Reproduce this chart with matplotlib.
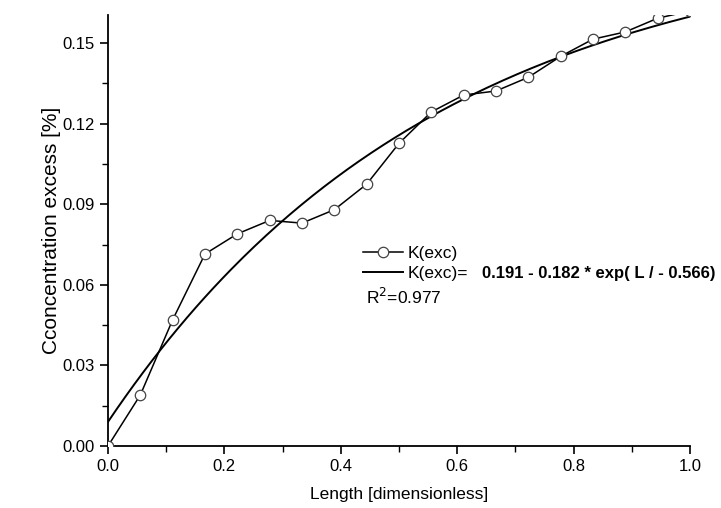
import matplotlib
matplotlib.use("Agg")
import matplotlib.pyplot as plt
import numpy as np
from matplotlib.ticker import MultipleLocator, FormatStrFormatter

plt.rcParams['font.family'] = ['Liberation Sans', 'DejaVu Sans']

# measured points K(exc)
length = [0.0, 1/18, 2/18, 3/18, 4/18, 5/18, 6/18, 7/18, 8/18, 9/18,
          10/18, 11/18, 12/18, 13/18, 14/18, 15/18, 16/18, 17/18, 1.0]
k_exc = [0.000, 0.019, 0.047, 0.0715, 0.079, 0.084, 0.083, 0.088, 0.0975, 0.1127,
         0.1244, 0.1307, 0.1322, 0.1373, 0.1451, 0.1515, 0.1542, 0.1593, 0.162]

# fitted curve parameters (from the legend)
fit_a, fit_b, fit_t = 0.191, 0.182, 0.566
fit_x = np.linspace(0, 1, 200)
fit_y = fit_a - fit_b * np.exp(fit_x / -fit_t)

fig = plt.figure(figsize=(7.21, 5.08), dpi=100)
ax = fig.add_axes([108/721, 62/508, 582/721, 431/508])

ax.plot(length, k_exc, color='black', linewidth=1.1, marker='o', markersize=7.5,
        markerfacecolor='white', markeredgecolor='#444444', markeredgewidth=0.9,
        label='K(exc)', zorder=3)
ax.plot(fit_x, fit_y, color='black', linewidth=1.4, label='K(exc)=', zorder=2)

ax.set_xlim(0, 1.0)
ax.set_ylim(0, 0.1605)
ax.xaxis.set_major_locator(MultipleLocator(0.2))
ax.xaxis.set_minor_locator(MultipleLocator(0.1))
ax.yaxis.set_major_locator(MultipleLocator(0.03))
ax.yaxis.set_minor_locator(MultipleLocator(0.015))
ax.xaxis.set_major_formatter(FormatStrFormatter('%.1f'))
ax.yaxis.set_major_formatter(FormatStrFormatter('%.2f'))
ax.tick_params(which='major', direction='out', length=6, width=1.2, labelsize=12)
ax.tick_params(which='minor', direction='out', length=4, width=1.0)
ax.spines[['top', 'right']].set_visible(False)
ax.spines[['left', 'bottom']].set_linewidth(1.3)

ax.set_xlabel("Length [dimensionless]", fontsize=12.5, labelpad=9)
ax.set_ylabel("Cconcentration excess [%]", fontsize=15, labelpad=1)

ax.legend(loc='upper left', bbox_to_anchor=(0.438, 0.464), frameon=False,
          fontsize=12.5, handlelength=2.3, handletextpad=0.3, labelspacing=0.27,
          borderpad=0, borderaxespad=0)
ax.text(0.642, 0.400, "0.191 - 0.182 * exp( L / - 0.566)", transform=ax.transAxes,
        fontsize=12, fontweight='bold', va='center', ha='left')
ax.text(0.443, 0.345, "R$^2$=0.977", transform=ax.transAxes,
        fontsize=12.5, va='center', ha='left')

fig.savefig("out.png", dpi=100, facecolor='white')
